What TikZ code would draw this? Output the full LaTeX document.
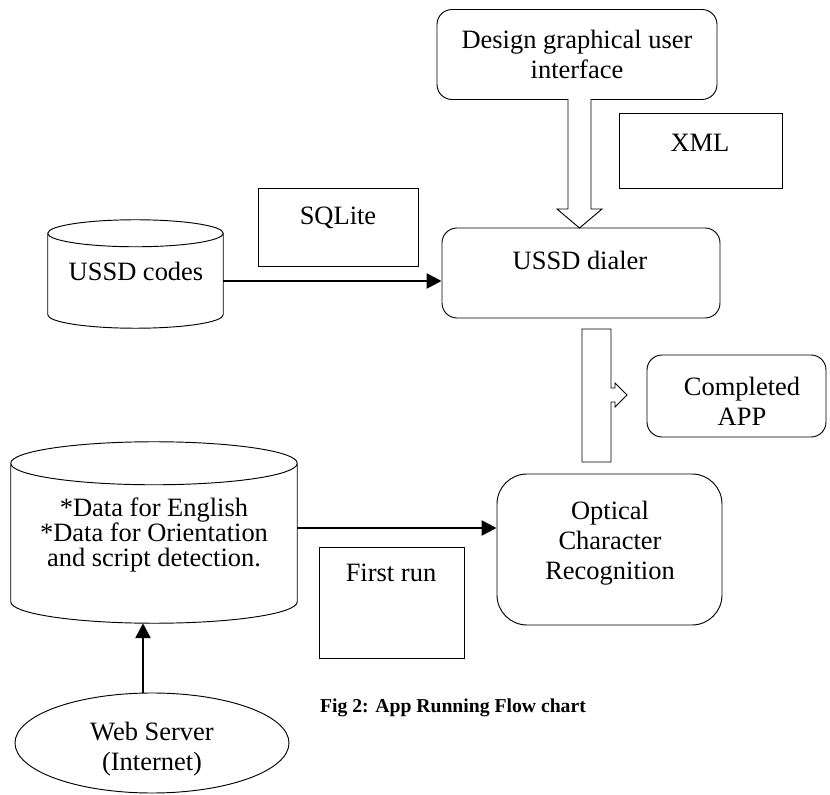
\documentclass[tikz,border=0pt]{standalone}
\usepackage{fontspec}
\setmainfont{Liberation Serif}
\usetikzlibrary{calc,shapes.geometric,arrows.meta}
\def\px{0.03cm}
% database drum drawn round a node: #1 node name, #2 half height of the ellipse
\newcommand\drum[2]{\draw[thinline] let \p1=(#1.north west), \p2=(#1.south east), \n1={(\x2-\x1)/2} in
  ($(\x1,\y1)+(0,-#2)$) -- ($(\x1,\y2)+(0,#2)$) arc[start angle=180, end angle=360, x radius=\n1, y radius=#2] -- ($(\x2,\y1)+(0,-#2)$)
  ($(\x1,\y1)+(\n1,-#2)$) ellipse[x radius=\n1, y radius=#2];}

\tikzset{
  thinline/.style={line width=0.8pt},
  box/.style={draw, thinline, inner sep=0pt},
  roundbox/.style={box, rounded corners=#1},
  roundbox/.default=0.45cm,
  flow/.style={line width=2.2pt, -{Triangle[length=0.45cm, width=0.45cm]}},
  hollow/.style={thinline, fill=white, line join=miter},
}

\begin{document}
\begin{tikzpicture}[x=\px, y=-\px, font=\fontsize{22.6}{25.6}\selectfont]
		%%%%% START %%%%%
		\useasboundingbox (0,0) rectangle (830,795);
		
		\node[roundbox, minimum width=280*\px, minimum height=90*\px, align=center] (gui) at (577,54.5) {Design graphical user\\interface};
		\draw[hollow] (568,99) -- (568,209) -- (557,209) -- (579.5,228) -- (602,209) -- (591,209) -- (591,99);
		
		\node[box, minimum width=163*\px, minimum height=75*\px] (xmlbox) at (700.5,150.5) {};
		\node (xml) at (700,143) {XML};
		
		\node[box, minimum width=160*\px, minimum height=78*\px] (sqlbox) at (338,227) {};
		\node (sql) at (338,218) {SQLite};
		
		\node[inner sep=0pt, minimum width=175*\px, minimum height=108*\px] (codes) at (135.5,274) {};
		\drum{codes}{13.5*\px}
		\node (codestext) at (136,271) {USSD codes};
		
		\node[roundbox, minimum width=278*\px, minimum height=90*\px] (dialer) at (581,273) {};
		\node (dial) at (580,260) {USSD dialer};
		\draw[flow] ([yshift=-0.21cm]codes.east) -- ([yshift=-0.21cm]codes.east -| dialer.west);
		
		\draw[hollow] (582,329) -- (611,329) -- (611,388) -- (615,388) -- (615,383) -- (627,395) -- (615,407) -- (615,402) -- (611,402) -- (611,462) -- (582,462) -- cycle;
		\node[roundbox, minimum width=179*\px, minimum height=82*\px] (app) at (736.5,396) {};
		\node[align=center] (apptext) at (742,401) {Completed\\APP};
		
		\node[roundbox=0.9cm, minimum width=225*\px, minimum height=151*\px] (ocr) at (609.5,549.5) {};
		\node[align=center] (ocrtext) at (610,543) {Optical\\Character\\Recognition};
		
		\node[inner sep=0pt, minimum width=286*\px, minimum height=181*\px] (data) at (154,532.5) {};
		\drum{data}{21.5*\px}
		\node[align=center, font=\fontsize{22.6}{21}\selectfont] (datatext) at (154,535)
		      {\lineskiplimit=-20pt\relax *Data for English\\*Data for Orientation\\and script detection.};
		\draw[flow] ([yshift=0.135cm]data.east) -- ([yshift=0.135cm]data.east -| ocr.west);
		
		\node[box, minimum width=145*\px, minimum height=111*\px] (runbox) at (391.5,602.5) {};
		\node (run) at (391,573) {First run};
		
		\node[anchor=west, font=\bfseries\fontsize{16.8}{20}\selectfont] (caption) at (316,708) {Fig 2: App Running Flow chart};
		
		\node[draw, thinline, ellipse, inner sep=0pt, minimum width=274*\px, minimum height=100*\px] (web) at (152,743) {};
		\node[align=center] (webtext) at (152,749) {Web Server\\(Internet)};
		\draw[flow] ([xshift=-0.27cm]web.north) -- ([xshift=-0.27cm]web.north |- data.south);
		
		%%%%% END %%%%%
\end{tikzpicture}
\end{document}
